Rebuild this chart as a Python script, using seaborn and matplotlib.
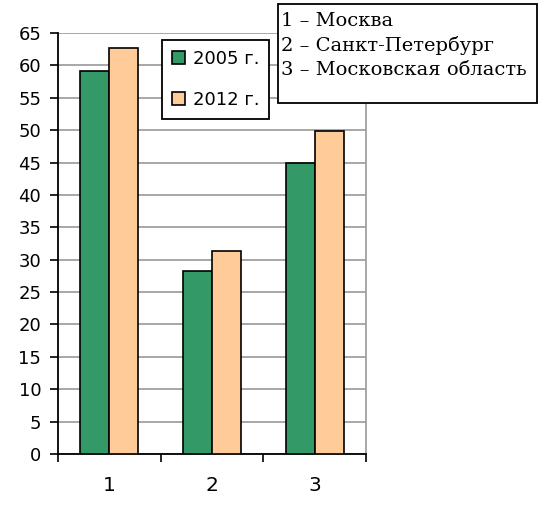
import numpy as np
import pandas as pd
import seaborn as sns
import matplotlib.pyplot as plt
from matplotlib.patches import Rectangle

regions = ["1", "2", "3"]
years = ["2005 г.", "2012 г."]
values_2005 = [59.1, 28.3, 45.0]
values_2012 = [62.7, 31.3, 49.9]
region_names = ["1 – Москва", "2 – Санкт-Петербург", "3 – Московская область"]
yticks = list(range(0, 70, 5))

df = pd.DataFrame({
    "region": regions * 2,
    "year": [years[0]] * 3 + [years[1]] * 3,
    "value": values_2005 + values_2012,
})

sns.set_theme(style="white")
plt.rcParams["font.family"] = ["DejaVu Sans"]
plt.rcParams["text.color"] = "black"
plt.rcParams["xtick.color"] = "black"
plt.rcParams["ytick.color"] = "black"

fig = plt.figure(figsize=(5.41, 5.07), dpi=100)
ax = fig.add_axes([0.107, 0.1045, 0.570, 0.8305])

sns.barplot(data=df, x="region", y="value", hue="year", order=regions, hue_order=years,
            palette=["#339966", "#FFCC99"], width=0.565, edgecolor="black", linewidth=1.2,
            saturation=1, ax=ax, zorder=3)

ax.set_xlim(-0.5, 2.5)
ax.set_ylim(0, 65)
ax.set_yticks(yticks)
ax.set_xlabel("")
ax.set_ylabel("")
ax.yaxis.grid(True, color="#a0a0a0", linewidth=1.3, zorder=0)
ax.set_axisbelow(True)

for s in ["left", "bottom"]:
    ax.spines[s].set_color("black")
    ax.spines[s].set_linewidth(1.3)
ax.spines["top"].set_visible(False)
ax.spines["right"].set_color("#a0a0a0")
ax.spines["right"].set_linewidth(1.3)

ax.tick_params(axis="y", left=True, length=6, width=1.2, labelsize=13, pad=6)
ax.tick_params(axis="x", which="major", bottom=False, labelsize=14.5, pad=10)
ax.set_xticks([-0.5, 0.5, 1.5, 2.5], minor=True)
ax.tick_params(axis="x", which="minor", bottom=True, length=6, width=1.2)

leg = ax.legend(loc="upper left", bbox_to_anchor=(0.338, 0.983), fontsize=13,
                frameon=True, fancybox=False, edgecolor="black", framealpha=1,
                handlelength=0.7, handleheight=0.7, handletextpad=0.45,
                labelspacing=1.25, borderpad=0.55, borderaxespad=0)
leg.get_frame().set_linewidth(1.3)

# legend box with region names
fig.patches.append(Rectangle((278 / 541, 1 - 103 / 507), 259 / 541, 99 / 507,
                             transform=fig.transFigure, facecolor="white",
                             edgecolor="black", linewidth=1.3, zorder=5))
fig.text(281 / 541, 1 - 12 / 507, "\n".join(region_names), ha="left", va="top",
         fontsize=14, family=["DejaVu Serif"], linespacing=1.42, zorder=6)

fig.savefig("out.png", dpi=100)
